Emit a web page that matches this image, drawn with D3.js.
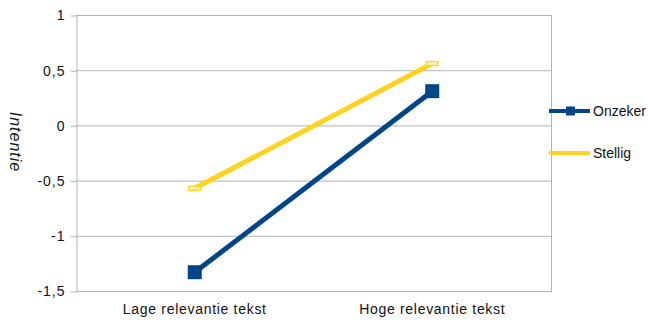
<!DOCTYPE html>
<html>
<head>
<meta charset="utf-8">
<script src="https://cdn.jsdelivr.net/npm/d3@7"></script>
<style>
  html, body { margin: 0; padding: 0; background: #fff; }
  svg { display: block; font-family: "Liberation Sans", Arial, sans-serif; }
</style>
</head>
<body>
<svg id="chart" width="648" height="322"></svg>
<script>
// Category labels along the x axis
const categories = ["Lage relevantie tekst", "Hoge relevantie tekst"];
// Series names and their values per category
const seriesNames = ["Onzeker", "Stellig"];
const onzeker = [-1.33, 0.31];
const stellig = [-0.57, 0.56];
// Y axis tick values
const yTicks = [1, 0.5, 0, -0.5, -1, -1.5];
const colors = { Onzeker: "#004586", Stellig: "#ffd320" };

const svg = d3.select("#chart");
const plot = { left: 76, right: 551, top: 15, bottom: 291 };

const x = d3.scaleBand().domain(categories).range([plot.left, plot.right]);
const y = d3.scaleLinear().domain([-1.5, 1]).range([plot.bottom, plot.top]);
const fmt = v => String(v).replace(".", ",");

// Horizontal gridlines
svg.append("g").selectAll("line").data(yTicks).join("line")
  .attr("x1", plot.left).attr("x2", plot.right)
  .attr("y1", d => y(d) + 0.5).attr("y2", d => y(d) + 0.5)
  .attr("stroke", "#b3b3b3").attr("stroke-width", 1);

// Y axis with labels
const yAxis = svg.append("g").attr("transform", `translate(${plot.left + 0.5},0.5)`)
  .call(d3.axisLeft(y).tickValues(yTicks).tickFormat(fmt).tickSize(6).tickSizeOuter(0).tickPadding(5));
yAxis.select(".domain").attr("stroke", "#b3b3b3");
yAxis.selectAll(".tick line").attr("stroke", "#b3b3b3");
yAxis.selectAll("text").attr("font-size", 14).attr("fill", "#111")
  .attr("letter-spacing", 1)
  .style("font-family", "Liberation Sans, Arial, sans-serif");

// Right border of plot area
svg.append("line")
  .attr("x1", plot.right + 0.5).attr("x2", plot.right + 0.5)
  .attr("y1", plot.top).attr("y2", plot.bottom + 1)
  .attr("stroke", "#b3b3b3");

// X axis category labels
svg.append("g").selectAll("text").data(categories).join("text")
  .attr("x", d => x(d) + x.bandwidth() / 2)
  .attr("y", 314)
  .attr("text-anchor", "middle")
  .attr("font-size", 14)
  .attr("letter-spacing", 0.7)
  .attr("fill", "#111")
  .text(d => d);

// Y axis title
svg.append("text")
  .attr("transform", `translate(10,142) rotate(90)`)
  .attr("text-anchor", "middle")
  .attr("font-size", 16)
  .attr("letter-spacing", 1)
  .attr("font-style", "italic")
  .attr("fill", "#1a1a1a")
  .text("Intentie");

const cx = d => x(d) + x.bandwidth() / 2;
const line = d3.line().x(d => cx(d.cat)).y(d => y(d.v));

const series = [
  { name: "Onzeker", values: onzeker },
  { name: "Stellig", values: stellig }
];

// Stellig drawn first so Onzeker sits on top
[series[1], series[0]].forEach(s => {
  const pts = categories.map((c, i) => ({ cat: c, v: s.values[i] }));
  svg.append("path").datum(pts)
    .attr("d", line)
    .attr("fill", "none")
    .attr("stroke", colors[s.name])
    .attr("stroke-width", 5);
  if (s.name === "Onzeker") {
    svg.append("g").selectAll("rect").data(pts).join("rect")
      .attr("x", d => cx(d.cat) - 7).attr("y", d => y(d.v) - 7)
      .attr("width", 14).attr("height", 14)
      .attr("fill", colors.Onzeker);
  } else {
    svg.append("g").selectAll("rect").data(pts).join("rect")
      .attr("x", d => cx(d.cat) - 6).attr("y", d => y(d.v) - 2)
      .attr("width", 12).attr("height", 4)
      .attr("fill", "#fff2b0")
      .attr("stroke", colors.Stellig).attr("stroke-width", 1.2);
  }
});

// Legend
const legend = svg.append("g");
seriesNames.forEach((name, i) => {
  const ly = 111 + i * 42;
  legend.append("line")
    .attr("x1", 549).attr("x2", 590).attr("y1", ly).attr("y2", ly)
    .attr("stroke", colors[name]).attr("stroke-width", 4);
  if (name === "Onzeker") {
    legend.append("rect")
      .attr("x", 566).attr("y", ly - 4.5).attr("width", 9).attr("height", 9)
      .attr("fill", colors[name]);
  }
  legend.append("text")
    .attr("x", 593).attr("y", ly + 5)
    .attr("font-size", 14).attr("fill", "#111")
    .text(name);
});
</script>
</body>
</html>
